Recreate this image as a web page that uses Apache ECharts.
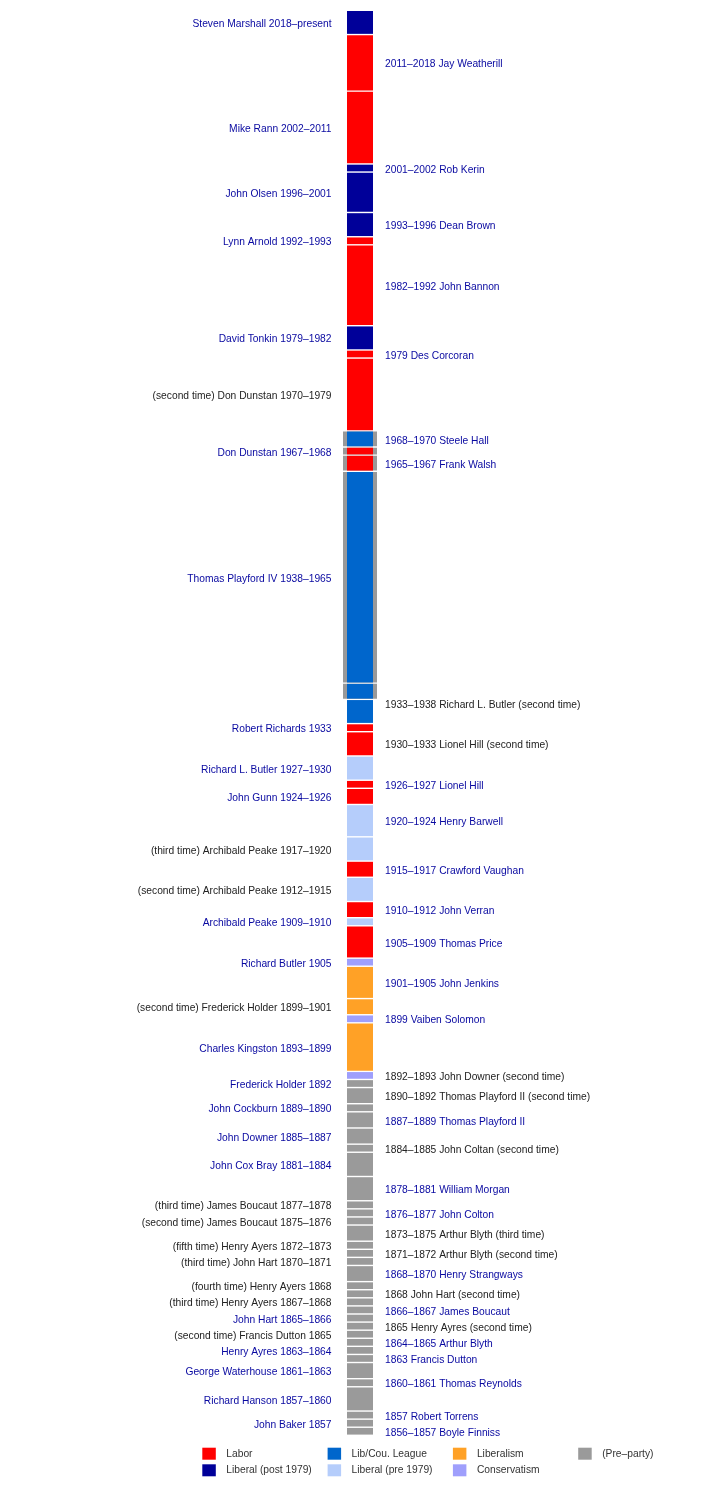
<!DOCTYPE html>
<html><head><meta charset="utf-8">
<script src="https://cdn.jsdelivr.net/npm/echarts@6/dist/echarts.min.js"></script>
<style>html,body{margin:0;padding:0;background:#fff}#c{width:720px;height:1500px}</style>
</head><body><div id="c"></div>
<script>
// Premiers of South Australia, listed from the bottom of the bar (earliest) to the top (latest)
const premiers = ['Boyle Finniss','John Baker','Robert Torrens','Richard Hanson','Thomas Reynolds','George Waterhouse','Francis Dutton','Henry Ayres','Arthur Blyth','Francis Dutton','Henry Ayres','John Hart','James Boucaut','Henry Ayers','John Hart','Henry Ayers','Henry Strangways','John Hart','Arthur Blyth','Henry Ayers','Arthur Blyth','James Boucaut','John Colton','James Boucaut','William Morgan','John Cox Bray','John Coltan','John Downer','Thomas Playford II','John Cockburn','Thomas Playford II','Frederick Holder','John Downer','Charles Kingston','Vaiben Solomon','Frederick Holder','John Jenkins','Richard Butler','Thomas Price','Archibald Peake','John Verran','Archibald Peake','Crawford Vaughan','Archibald Peake','Henry Barwell','John Gunn','Lionel Hill','Richard L. Butler','Lionel Hill','Robert Richards','Richard L. Butler','Thomas Playford IV','Frank Walsh','Don Dunstan','Steele Hall','Don Dunstan','Des Corcoran','David Tonkin','John Bannon','Lynn Arnold','Dean Brown','John Olsen','Rob Kerin','Mike Rann','Jay Weatherill','Steven Marshall'];
const terms = ['1856–1857','1857','1857','1857–1860','1860–1861','1861–1863','1863','1863–1864','1864–1865','1865','1865','1865–1866','1866–1867','1867–1868','1868','1868','1868–1870','1870–1871','1871–1872','1872–1873','1873–1875','1875–1876','1876–1877','1877–1878','1878–1881','1881–1884','1884–1885','1885–1887','1887–1889','1889–1890','1890–1892','1892','1892–1893','1893–1899','1899','1899–1901','1901–1905','1905','1905–1909','1909–1910','1910–1912','1912–1915','1915–1917','1917–1920','1920–1924','1924–1926','1926–1927','1927–1930','1930–1933','1933','1933–1938','1938–1965','1965–1967','1967–1968','1968–1970','1970–1979','1979','1979–1982','1982–1992','1992–1993','1993–1996','1996–2001','2001–2002','2002–2011','2011–2018','2018–present'];
const repeatTimes = ['','','','','','','','','','second','second','','','third','second','fourth','','third','second','fifth','third','second','','third','','','second','','','','second','','second','','','second','','','','','','second','','third','','','','','second','','second','','','','','second','','','','','','','','','',''];
// displayed length of each term on the bar (years, short terms shown as one year)
const spans = [1,1,1,3,1,2,1,1,1,1, 1,1,1,1,1,1,2,1,1,1, 2,1,1,1,3,3,1,2,2,1, 2,1,1,6,1,2,4,1,4,1, 2,3,2,3,4,2,1,3,3,1, 5,26.2,2,1,2,9,1,3,10,1, 3,5,1,9,7,3];
const P = 'Pre–party';
const parties = [P,P,P,P,P,P,P,P,P,P, P,P,P,P,P,P,P,P,P,P, P,P,P,P,P,P,P,P,P,P, P,P,'Conservatism','Liberalism','Conservatism','Liberalism','Liberalism','Conservatism','Labor','Liberal (pre 1979)',
 'Labor','Liberal (pre 1979)','Labor','Liberal (pre 1979)','Liberal (pre 1979)','Labor','Labor','Liberal (pre 1979)','Labor','Labor',
 'Lib/Cou. League','Lib/Cou. League','Labor','Labor','Lib/Cou. League','Labor','Labor','Liberal (post 1979)','Labor','Labor',
 'Liberal (post 1979)','Liberal (post 1979)','Liberal (post 1979)','Labor','Labor','Liberal (post 1979)'];
// legend order (column by column)
const partyNames = ['Labor','Liberal (post 1979)','Lib/Cou. League','Liberal (pre 1979)','Liberalism','Conservatism','Pre–party'];
const partyLegend = ['Labor','Liberal (post 1979)','Lib/Cou. League','Liberal (pre 1979)','Liberalism','Conservatism','(Pre–party)'];
// grey band behind the bar (years)
const playmanderYears = [1936, 1970];

const partyColors = {'Labor':'#ff0000','Liberal (post 1979)':'#000099','Lib/Cou. League':'#0066cc','Liberal (pre 1979)':'#b5cdfb','Liberalism':'#ffa126','Conservatism':'#9f9ffc','Pre–party':'#9a9a9a'};
const BAND_COLOR = '#999999';
const BAR_W = 26, BAND_W = 34, GAP = 1.4;
const FONT = 'Liberation Sans, Arial, sans-serif';
const FS = 10.25;
const LINK = '#0808a0', PLAIN = '#222222';

// cumulative positions
const segs = [];
let acc = 0;
for (let i = 0; i < spans.length; i++) { segs.push([acc, acc + spans[i], i]); acc += spans[i]; }
const total = acc;
function yearToUnit(y) {
  for (let i = 0; i < terms.length; i++) {
    const parts = terms[i].split('–');
    const a = +parts[0], b = parts[1] ? (parts[1] === 'present' ? 2021 : +parts[1]) : a;
    if (a < y && y <= b) return segs[i][0] + spans[i] * (y - a) / (b - a);
  }
  return null;
}
const bandLo = yearToUnit(playmanderYears[0]), bandHi = yearToUnit(playmanderYears[1]);

function labelText(i) {
  const left = i % 2 === 1;
  const t = repeatTimes[i];
  if (left) return (t ? '(' + t + ' time) ' : '') + premiers[i] + ' ' + terms[i];
  return terms[i] + ' ' + premiers[i] + (t ? ' (' + t + ' time)' : '');
}

function renderSeg(params, api) {
  const i = api.value(2);
  const s = api.value(0), e = api.value(1);
  const cx = api.coord([0, s])[0];
  const cuts = [s, e];
  [bandLo, bandHi].forEach(b => { if (b > s && b < e) cuts.push(b); });
  cuts.sort((a, b) => a - b);
  const color = partyColors[parties[i]];
  const children = [];
  for (let k = 0; k < cuts.length - 1; k++) {
    const a = cuts[k], b = cuts[k + 1];
    const yb = api.coord([0, a])[1], yt = api.coord([0, b])[1];
    const top = yt + GAP / 2, h = (yb - yt) - GAP;
    if (a >= bandLo - 1e-9 && b <= bandHi + 1e-9) {
      children.push({type: 'rect', shape: {x: cx - BAND_W / 2, y: top, width: BAND_W, height: h}, style: {fill: BAND_COLOR}});
    }
    children.push({type: 'rect', shape: {x: cx - BAR_W / 2, y: top, width: BAR_W, height: h}, style: {fill: color}});
  }
  const ys = api.coord([0, s])[1], ye = api.coord([0, e])[1];
  const left = i % 2 === 1;
  children.push({
    type: 'text',
    style: {
      text: labelText(i), x: left ? cx - 28.5 : cx + 25, y: (ys + ye) / 2 + 1.8,
      align: left ? 'right' : 'left', verticalAlign: 'middle',
      fill: repeatTimes[i] ? PLAIN : LINK, fontSize: FS, fontFamily: FONT
    }
  });
  return {type: 'group', children};
}

const legendSeries = partyNames.map((p, k) => ({
  name: partyLegend[k], type: 'scatter', data: [], itemStyle: {color: partyColors[p], opacity: 1}
}));
const legends = partyNames.map((p, k) => ({
  data: [partyLegend[k]], left: 202.3 + Math.floor(k / 2) * 125.3, top: 1447.7 + (k % 2) * 16.6,
  padding: 0, itemWidth: 13.5, itemHeight: 12, icon: 'rect', selectedMode: false,
  itemStyle: {opacity: 1},
  textStyle: {fontSize: FS, fontFamily: FONT, color: '#333', padding: [2, 0, 0, 5.5]}
}));

const chart = echarts.init(document.getElementById('c'), null, {renderer: 'canvas'});
chart.setOption({
  animation: false,
  grid: {left: 0, right: 0, top: 10.3, bottom: 64.7},
  xAxis: {type: 'value', min: -1, max: 1, show: false},
  yAxis: {type: 'value', min: 0, max: total, show: false},
  legend: legends,
  series: [{
    type: 'custom', renderItem: renderSeg, data: segs, silent: true, clip: false,
    encode: {x: -1, y: [0, 1]}
  }].concat(legendSeries)
});
</script></body></html>
